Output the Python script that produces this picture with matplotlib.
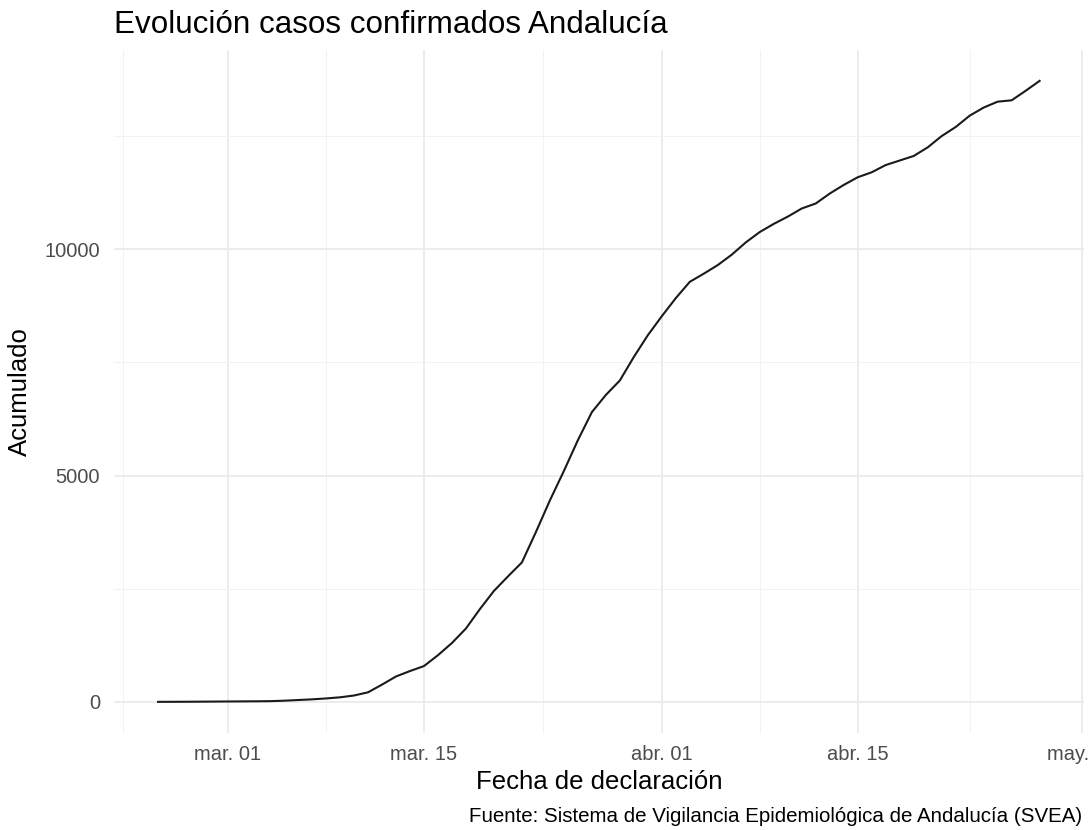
import numpy as np
import pandas as pd
import matplotlib
matplotlib.use("Agg")
import matplotlib.pyplot as plt
import matplotlib.dates as mdates

# cumulative confirmed cases, one value per day
start_date = "2020-02-25"
acumulado = [0, 1, 2, 4, 6, 8, 10, 12, 15, 25, 40, 55, 75, 100, 140, 210,
             380, 560, 680, 790, 1030, 1300, 1620, 2050, 2450, 2770, 3080,
             3750, 4450, 5100, 5780, 6400, 6780, 7100, 7620, 8100, 8520,
             8920, 9280, 9460, 9650, 9880, 10150, 10380, 10560, 10720,
             10900, 11010, 11230, 11420, 11590, 11700, 11860, 11960, 12060,
             12250, 12500, 12700, 12950, 13130, 13260, 13290, 13500, 13720]
fechas = pd.date_range(start_date, periods=len(acumulado), freq="D")

x_major = ["2020-03-01 00:00", "2020-03-15 00:00", "2020-04-01 00:00",
           "2020-04-15 00:00", "2020-05-01 00:00"]
x_major_labels = ["mar. 01", "mar. 15", "abr. 01", "abr. 15", "may. 01"]
x_minor = ["2020-02-22 12:00", "2020-03-08 00:00", "2020-03-23 12:00",
           "2020-04-08 00:00", "2020-04-23 00:00"]
y_major = [0, 5000, 10000]
y_minor = [2500, 7500, 12500]

plt.rcParams['font.family'] = ['Liberation Sans', 'DejaVu Sans']

fig = plt.figure(figsize=(10.92, 8.3), dpi=100)
ax = fig.add_axes([0.1044, 0.117, 0.888, 0.823])

ax.plot(fechas, acumulado, color="#1a1a1a", linewidth=1.5)

# ggplot-style 5% expansion
xnum = mdates.date2num(fechas)
xr = xnum.max() - xnum.min()
ax.set_xlim(xnum.min() - 0.05 * xr, xnum.max() + 0.05 * xr)
yr = max(acumulado) - min(acumulado)
ax.set_ylim(min(acumulado) - 0.05 * yr, max(acumulado) + 0.05 * yr)

ax.set_xticks(mdates.date2num(pd.to_datetime(x_major, format="%Y-%m-%d %H:%M")))
ax.set_xticklabels(x_major_labels)
ax.set_xticks(mdates.date2num(pd.to_datetime(x_minor, format="%Y-%m-%d %H:%M")), minor=True)
ax.set_yticks(y_major)
ax.set_yticks(y_minor, minor=True)

ax.grid(which="major", color="#EBEBEB", linewidth=1.3)
ax.grid(which="minor", color="#F2F2F2", linewidth=0.7)
ax.set_axisbelow(True)
for s in ax.spines.values():
    s.set_visible(False)
ax.tick_params(which="both", length=0)
ax.tick_params(axis="x", labelsize=14.5, labelcolor="#4D4D4D", pad=9)
ax.tick_params(axis="y", labelsize=14.5, labelcolor="#4D4D4D", pad=10)

ax.set_xlabel("Fecha de declaración", fontsize=18.5, color="black", labelpad=4)
ax.set_ylabel("Acumulado", fontsize=18.5, color="black", labelpad=9)

fig.text(0.1044, 0.960, "Evolución casos confirmados Andalucía",
         fontsize=22.6, ha="left", va="baseline")
fig.text(0.991, 0.0095, "Fuente: Sistema de Vigilancia Epidemiológica de Andalucía (SVEA)",
         fontsize=14.8, ha="right", va="baseline")

plt.savefig("out.png", dpi=100)
